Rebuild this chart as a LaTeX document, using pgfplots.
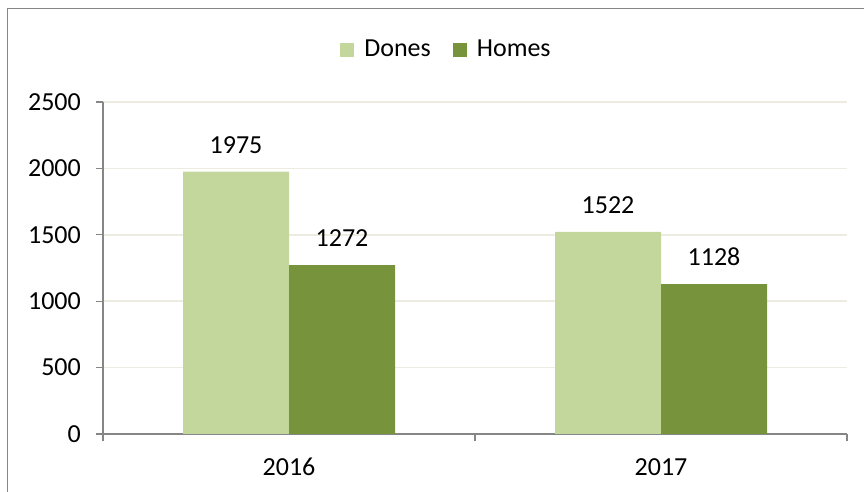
\documentclass[border=0pt]{standalone}
\usepackage{pgfplots}
\pgfplotsset{compat=1.18}
\usepackage{fontspec}
\setmainfont{Carlito}
\definecolor{lightg}{HTML}{C3D69B}
\definecolor{darkg}{HTML}{77933C}
\definecolor{axgray}{HTML}{868686}
\definecolor{gridc}{HTML}{EEECE1}
\begin{document}
\fontsize{26}{31}\selectfont
\begin{tikzpicture}[x=1pt,y=1pt]
\useasboundingbox (0,0) rectangle (864,492);
\draw[axgray, line width=1.5pt] (7.5,0) -- (7.5,483.5) -- (864,483.5);
\begin{axis}[
  at={(103pt,58pt)}, anchor=south west,
  scale only axis, width=744pt, height=332pt,
  xmin=-0.5, xmax=1.5, ymin=0, ymax=2500,
  axis x line=bottom, axis y line=left,
  axis line style={-, draw=axgray, line width=1.2pt},
  tick align=outside, major tick length=7pt,
  tick style={axgray, line width=1.2pt},
  xtick={-0.5,0.5,1.5}, xticklabels={},
  extra x ticks={0,1}, extra x tick labels={2016,2017},
  extra x tick style={major tick length=0pt, tick style={draw=none}},
  ytick={0,500,...,2500},
  ymajorgrids, major grid style={gridc, line width=1.5pt},
  ticklabel style={font=\fontsize{26}{31}\selectfont},
  /pgf/number format/assume math mode=true,
  /pgf/number format/set thousands separator={},
  yticklabel style={inner sep=0pt, xshift=-15pt},
  xticklabel style={inner sep=0pt, yshift=-24pt},
  ybar=0pt, bar width=106pt,
  nodes near coords,
  every node near coord/.append style={font=\fontsize{26}{31}\selectfont, inner sep=0pt, anchor=south, yshift=18pt, text=black},
  legend style={at={(0.4617,1.1566)}, anchor=center, draw=none, fill=none,
    font=\fontsize{26}{31}\selectfont,
    /tikz/every odd column/.append style={column sep=8pt},
    /tikz/every even column/.append style={column sep=20pt}},
  legend columns=2, legend cell align=left,
  clip=false,
]
\addplot[fill=lightg, draw=none, legend image code/.code={\fill[lightg] (0pt,-7pt) rectangle (14pt,7pt);}] coordinates {(0,1975) (1,1522)};
\addplot[fill=darkg, draw=none, legend image code/.code={\fill[darkg] (0pt,-7pt) rectangle (14pt,7pt);}] coordinates {(0,1272) (1,1128)};
\legend{Dones,Homes}
\end{axis}
\end{tikzpicture}
\end{document}
